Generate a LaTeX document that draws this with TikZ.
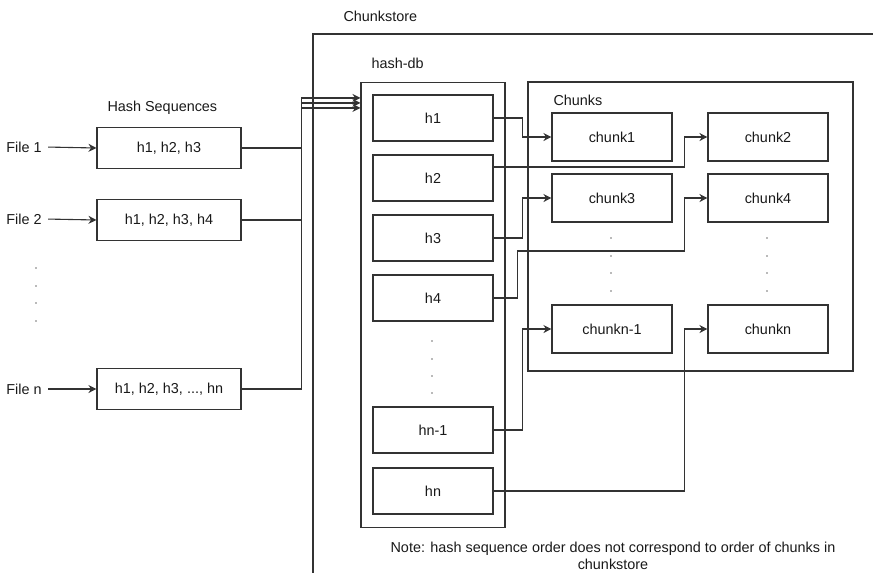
\documentclass[tikz,border=0pt]{standalone}
\usepackage{fontspec}
\setmainfont{Liberation Sans}
\usetikzlibrary{arrows.meta}
\begin{document}
\begin{tikzpicture}[x=1pt,y=-1pt,
  every node/.style={font=\fontsize{14.4}{17}\selectfont, text=black!90},
  line/.style={draw=black!80, line width=1.1pt},
  box/.style={line, minimum width=120pt, minimum height=46pt},
  seqbox/.style={box, minimum width=144pt, minimum height=41pt},
  arr/.style={line, -{Stealth[length=8pt,width=8pt]}}]
  \useasboundingbox (0,0) rectangle (873,573);
  % chunkstore frame, open to the right and bottom
  \draw[line] (873,34) -- (313,34) -- (313,573);
  \node[anchor=west] (storelbl) at (340,16) {Chunkstore};

  % files and their hash sequences
  \node[anchor=west] (seqlbl) at (104,108) {Hash Sequences};
  \node (file1) at (24,147) {File 1};
  \node (file2) at (24,219) {File 2};
  \node (filen) at (24,389) {File n};
  \node[seqbox] (seq1) at (169,148) {h1, h2, h3};
  \node[seqbox] (seq2) at (169,220) {h1, h2, h3, h4};
  \node[seqbox] (seqn) at (169,389) {h1, h2, h3, ..., hn};
  \foreach \y in {268,286,303,321}
    \fill[black!55] (36,\y) circle (0.9pt);
  \foreach \f/\s in {file1/seq1, file2/seq2, filen/seqn}
    \draw[arr, shorten <=3pt] (\f.east) -- (\s.west);

  % hash-db
  \node[line, minimum width=144pt, minimum height=445pt] (hashdb) at (433,305) {};
  \node[anchor=west] (dblbl) at (368,63) {hash-db};
  \foreach \n/\t/\y in {h1/h1/118, h2/h2/178, h3/h3/238, h4/h4/298, hnm/hn-1/430, hn/hn/491}
    \node[box] (\n) at (433,\y) {\t};
  \foreach \y in {341,359,376,393}
    \fill[black!55] (432,\y) circle (0.9pt);

  \draw[arr] (seq1.east) -- ++(60,0) |- ([yshift=-16pt]hashdb.north west);
  \draw[arr] (seq2.east) -- ++(60,0) |- ([yshift=-21pt]hashdb.north west);
  \draw[arr] (seqn.east) -- ++(60,0) |- ([yshift=-26pt]hashdb.north west);

  % chunks
  \node[line, minimum width=325pt, minimum height=289pt] (chunks) at (690.5,226.5) {};
  \node[anchor=west] (chunkslbl) at (550,100) {Chunks};
  \node[box, minimum height=48pt] (chunk1) at (612,137) {chunk1};
  \node[box, minimum height=48pt] (chunk2) at (768,137) {chunk2};
  \node[box, minimum height=48pt] (chunk3) at (612,198) {chunk3};
  \node[box, minimum height=48pt] (chunk4) at (768,198) {chunk4};
  \node[box, minimum height=48pt] (chunknm) at (612,329) {chunkn-1};
  \node[box, minimum height=48pt] (chunkn) at (768,329) {chunkn};
  \foreach \x in {611,767}
    \foreach \y in {238,256,273,291}
      \fill[black!55] (\x,\y) circle (0.9pt);

  \draw[arr] (h1.east) -- ++(29,0) |- (chunk1.west);
  \draw[arr] ([yshift=11pt]h2.east) -| ([xshift=-23pt]chunk2.west) -- (chunk2.west);
  \draw[arr] (h3.east) -- ++(29,0) |- (chunk3.west);
  \draw[arr] (h4.east) -- ++(24,0) -- ++(0,-47) -| ([xshift=-23pt]chunk4.west) -- (chunk4.west);
  \draw[arr] (hnm.east) -- ++(29,0) |- (chunknm.west);
  \draw[arr] (hn.east) -| ([xshift=-23pt]chunkn.west) -- (chunkn.west);

  \node[align=center] (note) at (613,556) {Note: hash sequence order does not correspond to order of chunks in\\chunkstore};
\end{tikzpicture}
\end{document}
